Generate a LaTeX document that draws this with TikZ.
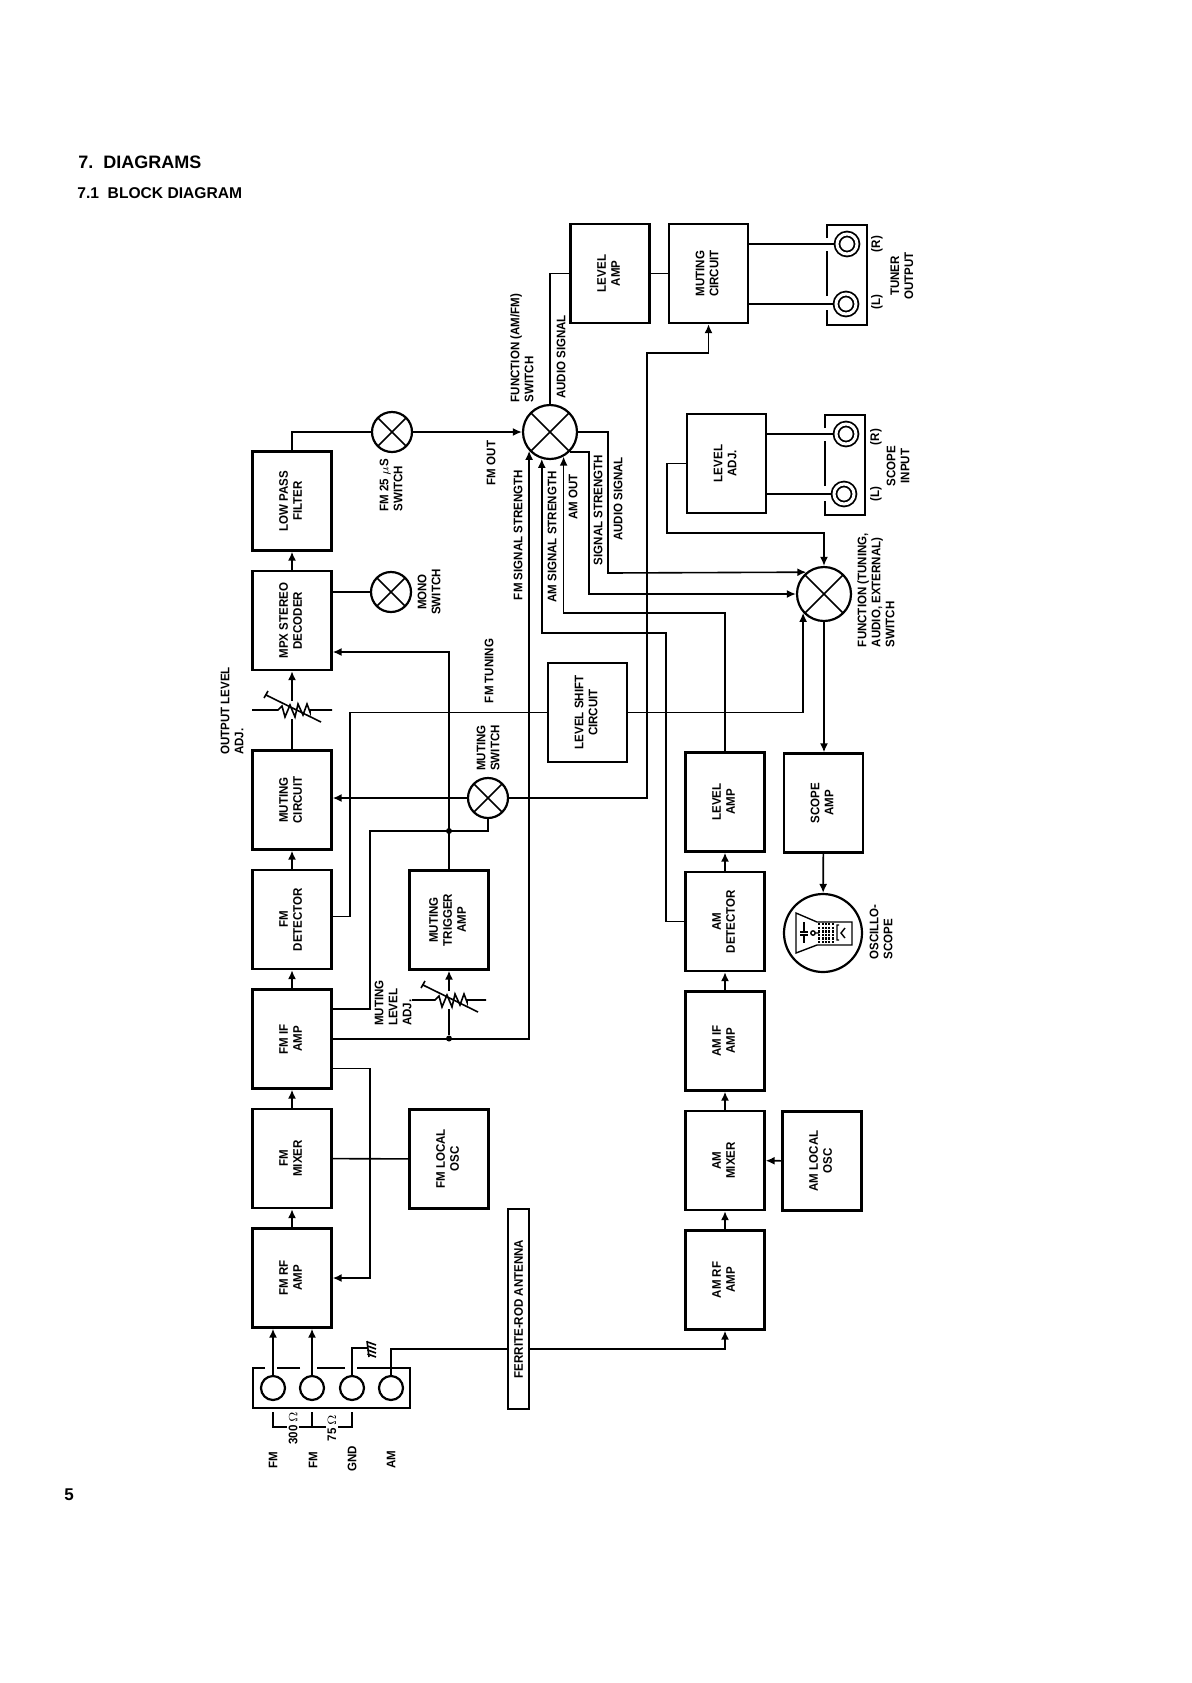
\documentclass[tikz,border=0pt]{standalone}
\usepackage{graphicx}
\usepackage{fontspec}
\setmainfont{Liberation Sans}
\newfontfamily\labfont[FakeStretch=0.93]{Liberation Sans}
\usetikzlibrary{arrows.meta, positioning, calc}
\newcommand{\vtext}[1]{\rotatebox{90}{\begin{tabular}{@{}c@{}}#1\end{tabular}}}
\tikzset{
    labfnt/.style={font=\labfont\bfseries\fontsize{6.2}{7}\selectfont},
    box/.style={rectangle, draw, line width=1.2pt, minimum width=39.5pt, minimum height=49.5pt, inner sep=0pt, labfnt},
    lab/.style={rotate=90, align=center, inner sep=0pt, labfnt},
    wire/.style={line width=0.8pt},
    arrow/.style={wire, -{Latex[length=4.5pt,width=4pt]}},
    swt/.style={circle, draw, line width=1.1pt, inner sep=0pt, minimum size=#1,
        path picture={\draw[line width=0.8pt] (path picture bounding box.north west) -- (path picture bounding box.south east)
            (path picture bounding box.north east) -- (path picture bounding box.south west);}},
    jack/.style={circle, draw, line width=1.1pt, inner sep=0pt, minimum size=24pt/2},
    ringjack/.style={circle, draw, line width=0.9pt, double, double distance=1.5pt, inner sep=0pt, minimum size=10pt, outer sep=1.75pt},
    dot/.style={circle, fill, inner sep=0pt, minimum size=3pt},
    resgap/.style={inner sep=0pt, minimum width=0pt, minimum height=9pt},
    varres/.pic={
        \draw[wire] (-#1,0) -- (-14,0) -- (-10,-4) -- (-7,7) -- (-2,-5) -- (3,7) -- (6,-6) -- (11,5) -- (15,-6) -- (18,2) -- (18,0) -- (#1,0);
        \draw[wire] (-26,-15) -- (29,12) (-28,-12) -- (-24,-19);
    }
}
\begin{document}
\begin{tikzpicture}[x=0.5pt, y=-0.5pt, node distance=9.05pt, >=stealth]
    \useasboundingbox (0,0) rectangle (1191,1683);

    % heading
    \node (head) [anchor=west, inner sep=0pt, font=\bfseries\fontsize{9}{11}\selectfont] at (78,162) {7.\ \ DIAGRAMS};
    \node (subhead) [anchor=west, inner sep=0pt, font=\bfseries\fontsize{7.8}{10}\selectfont] at (77,193) {7.1\ \ BLOCK DIAGRAM};
    \node (pageno) [inner sep=0pt, font=\bfseries\fontsize{8.5}{10}\selectfont] at (69,1495) {5};

    % FM chain
    \node (fmrf) [box] at (292,1278) {\vtext{FM RF\\AMP}};
    \node (fmmix) [box, above=of fmrf] {\vtext{FM\\MIXER}};
    \node (fmif) [box, above=of fmmix] {\vtext{FM IF\\AMP}};
    \node (fmdet) [box, above=of fmif] {\vtext{FM\\DETECTOR}};
    \node (fmmut) [box, above=of fmdet] {\vtext{MUTING\\CIRCUIT}};
    \node (mpx) [box] at (292,620.5) {\vtext{MPX STEREO\\DECODER}};
    \node (lpf) [box, above=of mpx] {\vtext{LOW PASS\\FILTER}};
    \node (fmosc) [box] at (449,1159) {\vtext{FM LOCAL\\OSC}};
    \node (mutrig) [box] at (449,920) {\vtext{MUTING\\TRIGGER\\AMP}};
    \node (lshift) [box] at (587.5,712.5) {\vtext{LEVEL SHIFT\\CIRCUIT}};

    % AM chain
    \node (amrf) [box] at (725,1280) {\vtext{AM RF\\AMP}};
    \node (ammix) [box, above=of amrf] {\vtext{AM\\MIXER}};
    \node (amif) [box, above=of ammix] {\vtext{AM IF\\AMP}};
    \node (amdet) [box, above=of amif] {\vtext{AM\\DETECTOR}};
    \node (amlev) [box, above=of amdet] {\vtext{LEVEL\\AMP}};
    \node (amosc) [box] at (822,1161) {\vtext{AM LOCAL\\OSC}};

    % output side
    \node (levamp) [box] at (610,273.5) {\vtext{LEVEL\\AMP}};
    \node (outmut) [box] at (708.5,273.5) {\vtext{MUTING\\CIRCUIT}};
    \node (levadj) [box] at (726.5,463.5) {\vtext{LEVEL\\ADJ.}};
    \node (scamp) [box] at (823.5,803) {\vtext{SCOPE\\AMP}};

    % switches
    \node (fun1) [swt=27pt] at (550,432) {};
    \node (fun2) [swt=27pt] at (824,594) {};
    \node (sw25) [swt=20pt] at (392,432) {};
    \node (swmono) [swt=20pt] at (391,592) {};
    \node (swmut) [swt=20pt] at (488,798) {};
    \node (osc) [circle, draw, line width=1.1pt, minimum size=39pt, inner sep=0pt] at (823,933) {};

    % antenna input panel
    \node (jk1) [jack] at (273,1388) {};
    \node (jk2) [jack] at (312,1388) {};
    \node (jk3) [jack] at (352,1388) {};
    \node (jk4) [jack] at (391,1388) {};
    \draw[line width=1.1pt] (265,1368) -- (253,1368) -- (253,1408) -- (410,1408) -- (410,1368) -- (357,1368)
        (345,1368) -- (317,1368) (300,1368) -- (277,1368);
    \draw[arrow] (jk1.north) -- (jk1.north |- fmrf.south);
    \draw[arrow] (jk2.north) -- (jk2.north |- fmrf.south);
    \coordinate (gndtap) at (367,1348);
    \draw[wire] (jk3.north) |- (gndtap);
    \draw[wire] (367,1341) -- (369,1357);
    \foreach \y in {1342,1346,1350,1354}
        \draw[wire] (367.5,\y) -- (376,\y+3);
    \coordinate (brk1) at (273,1427);
    \coordinate (brk2) at (312,1427);
    \coordinate (brk3) at (352,1427);
    \draw[wire] (273,1412) -- (brk1) -- (brk3) -- (352,1412) (312,1412) -- (brk2);
    \node (l300) [lab, fill=white, inner sep=1pt] at (293,1428) {300 $\Omega$};
    \node (l75) [lab, fill=white, inner sep=1pt] at (332,1428) {75 $\Omega$};
    \node (lfm1) [lab] at (273,1460) {FM};
    \node (lfm2) [lab] at (313,1460) {FM};
    \node (lgnd) [lab] at (352,1459) {GND};
    \node (lam) [lab] at (391,1460) {AM};

    \draw[arrow] (jk4.north) |- ($(gndtap -| amrf.south)+(0,1)$) -- (amrf.south);
    \node (rod) [box, fill=white, minimum width=10.5pt, minimum height=100pt, line width=1.1pt] at (518.5,1309) {\rotatebox{90}{FERRITE-ROD ANTENNA}};

    % signal path
    \foreach \a/\b in {fmrf/fmmix, fmmix/fmif, fmif/fmdet, fmdet/fmmut, mpx/lpf, amrf/ammix, ammix/amif, amif/amdet, amdet/amlev, amosc/ammix, scamp/osc}
        \draw[arrow] (\a) -- (\b);
    \draw[wire] (fmmix) -- (fmosc);

    \node (outres) [resgap] at (292,710) {};
    \pic at (outres) {varres=40};
    \draw[wire] (fmmut) -- (outres);
    \draw[arrow] (outres) -- (mpx);

    \coordinate (lpfbend) at (292,432);
    \draw[wire] (lpf) -- (lpfbend) -- (sw25);
    \draw[arrow] (sw25) -- (fun1);
    \draw[wire] (mpx.east |- swmono) -- (swmono);

    % muting
    \draw[arrow] (swmut) -- (fmmut.east |- swmut);
    \coordinate (mutbend) at (370,831);
    \draw[wire] ($(fmif.east)+(0,-30)$) -| (mutbend) -| (swmut.south);
    \node (mutdot) [dot] at (449,831) {};
    \draw[arrow] (mutrig.north) |- ($(mpx.east)+(0,31.5)$);
    \coordinate (mutout) at (647,353);
    \draw[arrow] (swmut) -| (mutout) -| (outmut.south);

    % FM IF outputs
    \coordinate (agc) at (370,1278);
    \draw[arrow] ($(fmif.east)+(0,29.5)$) -| (agc) -- (fmrf.east);
    \draw[arrow] (fmif.east) -| (fun1.222);
    \node (ifdot) [dot] at (449,1038.5) {};
    \node (mutres) [resgap] at (449,1000) {};
    \pic at (mutres) {varres=37};
    \draw[wire] (ifdot) -- (mutres);
    \draw[arrow] (mutres) -- (mutrig);

    % tuning
    \coordinate (fmtun) at (350,712.5);
    \draw[wire] ($(fmdet.east)+(0,-3)$) -| (fmtun) -- (lshift);
    \draw[arrow] (lshift.east) -| (fun2.222);

    % AM returns
    \coordinate (amout) at (725,613);
    \draw[arrow] (amlev.north) -- (amout) -| (fun1.299);
    \coordinate (amsig) at (666,633);
    \draw[arrow] (amdet.west) -| (amsig) -| (fun1.253);

    % function switch outputs
    \draw[wire] (fun1.north) |- (levamp.west);
    \draw[wire] (levamp) -- (outmut);
    \coordinate (audbend) at (608,573);
    \draw[arrow] (fun1.east) -| (audbend) -- (fun2.129);
    \coordinate (sigbend) at (589,594);
    \draw[arrow] (fun1.314) -| (sigbend) -- (fun2.west);
    \coordinate (adjbend) at (667,533);
    \draw[arrow] (levadj.west) -| (adjbend) -| (fun2.north);
    \draw[arrow] (fun2) -- (scamp.north -| fun2);

    % tuner output panel
    \node (tunr) [ringjack] at (847,244) {};
    \node (tunl) [ringjack] at (846,304) {};
    \draw[line width=1.1pt] (827,238) -- (827,225) -- (867,225) -- (867,325) -- (827,325) -- (827,310) (827,296) -- (827,251);
    \draw[wire] (outmut.east |- tunr) -- (tunr);
    \draw[wire] (outmut.east |- tunl) -- (tunl);

    % scope input panel
    \node (scr) [ringjack] at (846,434) {};
    \node (scl) [ringjack] at (844,494) {};
    \draw[line width=1.1pt] (825,428) -- (825,415) -- (865,415) -- (865,515) -- (825,515) -- (825,501) (825,486) -- (825,441);
    \draw[wire] (levadj.east |- scr) -- (scr);
    \draw[wire] (levadj.east |- scl) -- (scl);

    % oscilloscope tube
    \draw[line width=0.7pt] (796,913) -- (817,922) -- (852,922) -- (852,945) -- (817,945) -- (796,953) -- cycle;
    \draw[line width=0.7pt] (804,922) -- (804,932) (800,932) -- (808,932) (800,935) -- (808,935) (804,935) -- (804,943);
    \draw[line width=0.7pt] (813,933) circle (2.2) (815,933) -- (819,933);
    \foreach \x in {819,823,826,829,833}
        \draw[line width=0.7pt, dash pattern=on 1.2pt off 0.6pt] (\x,923) -- (\x,943);
    \draw[line width=0.7pt] (839,925) -- (837,925) -- (837,940) -- (839,940) (845,928) -- (841,933) -- (845,938);

    % labels
    \node (lfunone) [lab, align=left] at (522,348) {FUNCTION (AM/FM)\\SWITCH};
    \node (laudone) [lab] at (561,357) {AUDIO SIGNAL};
    \node (lfmout) [lab] at (491,463) {FM OUT};
    \node (lfmsig) [lab] at (518,535) {FM SIGNAL STRENGTH};
    \node (lamsig) [lab] at (552,537) {AM SIGNAL STRENGTH};
    \node (lamout) [lab] at (573,497) {AM OUT};
    \node (lsig) [lab] at (598,510) {SIGNAL STRENGTH};
    \node (laudtwo) [lab] at (618,499) {AUDIO SIGNAL};
    \node (lfmtun) [lab] at (489,671) {FM TUNING};
    \node (lmutsw) [lab] at (488,748) {MUTING\\SWITCH};
    \node (loutlev) [lab, align=left] at (232,711) {OUTPUT LEVEL\\ADJ.};
    \node (lmutlev) [lab, align=left] at (393,1003) {MUTING\\LEVEL\\ADJ.};
    \node (lsw25) [lab, align=left] at (391,485) {FM 25 $\mu$S\\SWITCH};
    \node (lmono) [lab] at (429,592) {MONO\\SWITCH};
    \node (lfuntwo) [lab, align=left] at (876,590) {FUNCTION (TUNING,\\AUDIO, EXTERNAL)\\SWITCH};
    \node (losc) [lab, align=left] at (881,932) {OSCILLO-\\SCOPE};
    \node (ltunr) [lab] at (877,244) {(R)};
    \node (ltunl) [lab] at (877,302) {(L)};
    \node (ltun) [lab] at (902,276) {TUNER\\OUTPUT};
    \node (lscr) [lab] at (876,437) {(R)};
    \node (lscl) [lab] at (876,494) {(L)};
    \node (lscp) [lab] at (898,466) {SCOPE\\INPUT};
\end{tikzpicture}
\end{document}
